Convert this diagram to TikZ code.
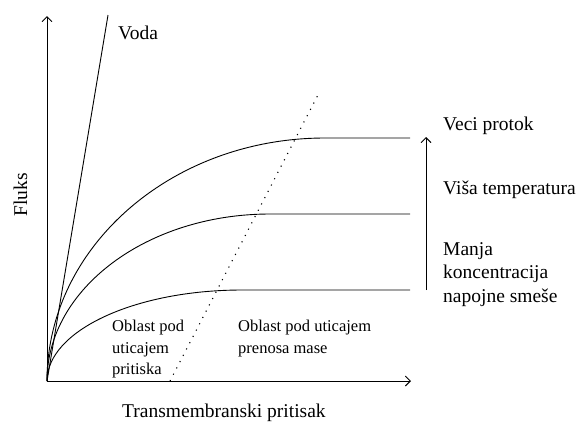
\documentclass[tikz,border=0pt]{standalone}
\usepackage{fontspec}
\setmainfont{Liberation Serif}
\usetikzlibrary{arrows.meta}
\tikzset{
  ln/.style={line width=0.9pt, black},
  axisarrow/.style={ln, -{Straight Barb[length=5pt,width=10pt,line width=0.9pt]}},
  dotline/.style={line width=1.1pt, dash pattern=on 1.1pt off 6pt},
  biglbl/.style={inner sep=0pt, font=\fontsize{19.5}{23.5}\selectfont, align=left},
  smalllbl/.style={inner sep=0pt, font=\fontsize{16.5}{21.5}\selectfont, align=left}
}
\begin{document}
\begin{tikzpicture}[x=1pt,y=-1pt]
\useasboundingbox (0,0) rectangle (580,421);
% axes
\coordinate (O) at (47,381);
\coordinate (ytip) at (47,16);
\coordinate (xtip) at (411,381);
\draw[axisarrow] (O) -- (ytip);
\draw[axisarrow] (O) -- (xtip);
% water line
\coordinate (vtop) at (108,15);
\draw[ln] (O) -- (vtop);
% flux curves (quarter ellipses then plateaus)
\coordinate (p1) at (325,138);
\coordinate (e1) at (410,138);
\coordinate (p2) at (270,214);
\coordinate (e2) at (410,214);
\coordinate (p3) at (242,290);
\coordinate (e3) at (410,290);
\draw[ln] (O) .. controls (47,247) and (171.5,138) .. (p1) -- (e1);
\draw[ln] (O) .. controls (47,289) and (146.8,214) .. (p2) -- (e2);
\draw[ln] (O) .. controls (47,331) and (134.3,290) .. (p3) -- (e3);
% dotted boundary
\coordinate (d0) at (170,381);
\coordinate (d1) at (320,91);
\draw[dotline] (d0) -- (d1);
% trend arrow
\coordinate (a0) at (426,290);
\coordinate (a1) at (426,137);
\draw[axisarrow] (a0) -- (a1);
% labels
\node[biglbl, anchor=base west] (voda) at (118,39) {Voda};
\node[biglbl, anchor=base west] (veci) at (443,130) {Veci protok};
\node[biglbl, anchor=base west] (visa) at (443,194) {Viša temperatura};
\node[biglbl, anchor=north west] (manja) at (443,242) {Manja\\koncentracija\\napojne smeše};
\node[smalllbl, anchor=north west] (obl1) at (112,320) {Oblast pod\\uticajem\\pritiska};
\node[smalllbl, anchor=north west] (obl2) at (238,320) {Oblast pod uticajem\\prenosa mase};
\node[biglbl, anchor=base west] (xlab) at (122,417) {Transmembranski pritisak};
\node[biglbl, rotate=90, anchor=base] (ylab) at (27,195) {Fluks};
\end{tikzpicture}
\end{document}
